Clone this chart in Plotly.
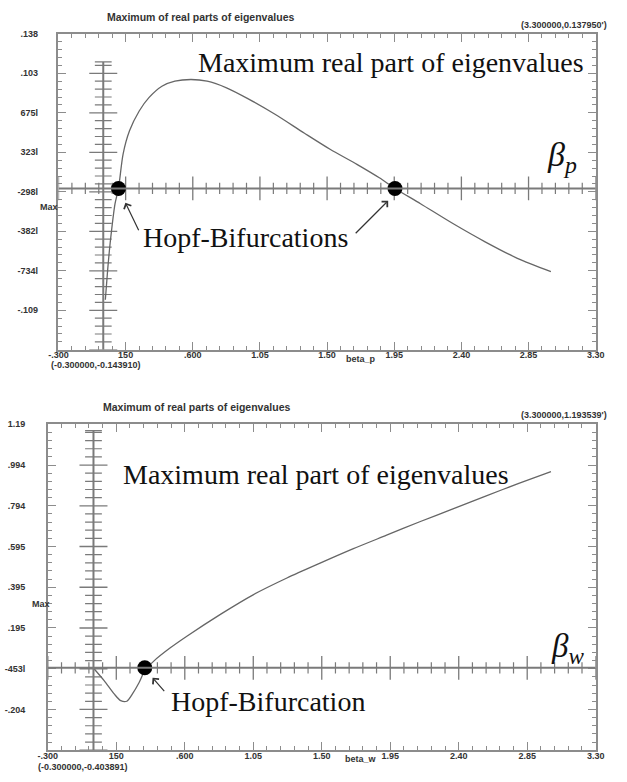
import numpy as np
import plotly.graph_objects as go

W, H = 627, 782

# ---------------- data ----------------
# top panel: beta_p
bp_x = [0.014, 0.030, 0.046, 0.079, 0.102, 0.133, 0.176, 0.241, 0.306, 0.393, 0.480, 0.588,
        0.696, 0.826, 0.978, 1.151, 1.346, 1.520, 1.700, 1.850, 1.955, 2.126, 2.343, 2.559,
        2.775, 3.000]
bp_y = [-0.0993, -0.0720, -0.0491, -0.0136, 0.0000, 0.0307, 0.0514, 0.0691, 0.0810, 0.0912,
        0.0957, 0.0972, 0.0957, 0.0898, 0.0795, 0.0662, 0.0495, 0.0350, 0.0215, 0.0095,
        0.0000, -0.0136, -0.0313, -0.0476, -0.0623, -0.0741]
bp_hopf_x = [0.102, 1.955]
bp_hopf_y = [0.0, 0.0]

# bottom panel: beta_w
bw_x = [0.005, 0.070, 0.136, 0.179, 0.219, 0.256, 0.300, 0.337, 0.398, 0.507, 0.616, 0.834,
        1.052, 1.271, 1.489, 1.708, 1.926, 2.144, 2.362, 2.581, 2.799, 3.006]
bw_y = [-0.006, -0.063, -0.128, -0.161, -0.164, -0.128, -0.072, -0.015, 0.034, 0.099, 0.156,
        0.262, 0.359, 0.440, 0.513, 0.584, 0.650, 0.716, 0.779, 0.843, 0.905, 0.962]
bw_hopf_x = [0.337]
bw_hopf_y = [0.0]

x_range = [-0.3, 3.3]
top_y_range = [-0.143910, 0.137950]
bot_y_range = [-0.403891, 1.193539]
x_ticktext = ["-.300", "150", ".600", "1.05", "1.50", "1.95", "2.40", "2.85", "3.30"]
top_y_ticktext = ["", "-.109", "-734l", "-382l", "-298l", "323l", "675l", ".103", ".138"]
bot_y_ticktext = ["", "-.204", "-453l", ".195", ".395", ".595", ".794", ".994", "1.19"]
top_inner_ytop = 0.1129
bot_inner_ytop = 1.163

# ---------------- geometry helpers ----------------
def fx(px):
    return px / W

def fy(py):
    return 1 - py / H

TOP = dict(l=50, r=604, t=29, b=347, ystand=17)
BOT = dict(l=39, r=604, t=422, b=750, ystand=19)

FRAME = "#8c8c8c"
AXC = "#7a7a7a"
CURVE = "#666666"
TXT = "#111111"
SMALL = "#333333"

fig = go.Figure()


def ticks(rng, n_major=8, n_sub=5):
    major = list(np.linspace(rng[0], rng[1], n_major + 1))
    allt = list(np.linspace(rng[0], rng[1], n_major * n_sub + 1))
    minor = [v for i, v in enumerate(allt) if i % n_sub != 0]
    return major, minor


def panel(xa, ya, yr, ytext, geo, cx, cy, hx, hy, inner_top):
    xmaj, xmin = ticks(x_range)
    ymaj, ymin = ticks(yr)
    common = dict(showline=True, linecolor=FRAME, linewidth=1.5, mirror="allticks",
                  ticks="inside", ticklen=8, tickwidth=1.2, tickcolor=FRAME,
                  showgrid=False, zeroline=False, fixedrange=True,
                  tickfont=dict(family="Liberation Sans", size=9, color=SMALL, weight="bold"),
                  tickmode="array")
    fig.layout[xa] = dict(common, domain=[fx(geo["l"]), fx(geo["r"])], range=x_range,
                          anchor=ya.replace("axis", ""),
                          tickvals=xmaj, ticktext=x_ticktext, ticklabelstandoff=-4,
                          minor=dict(ticks="inside", ticklen=4, tickcolor=FRAME, tickwidth=1,
                                     tickmode="array", tickvals=xmin, showgrid=False))
    fig.layout[ya] = dict(common, domain=[fy(geo["b"]), fy(geo["t"])], range=yr,
                          anchor=xa.replace("axis", ""),
                          tickvals=ymaj, ticktext=ytext, ticklabelstandoff=geo["ystand"],
                          minor=dict(ticks="inside", ticklen=4, tickcolor=FRAME, tickwidth=1,
                                     tickmode="array", tickvals=ymin, showgrid=False))
    xref = xa.replace("axis", "")
    yref = ya.replace("axis", "")
    # inner axes lines
    fig.add_shape(type="line", xref=xref, yref=yref, x0=x_range[0], x1=x_range[1], y0=0, y1=0,
                  line=dict(color=AXC, width=2))
    fig.add_shape(type="line", xref=xref, yref=yref, x0=0, x1=0, y0=yr[0], y1=inner_top,
                  line=dict(color=AXC, width=2))
    # inner axis ticks
    fig.add_trace(go.Scatter(x=xmaj, y=[0] * len(xmaj), xaxis=xref, yaxis=yref, mode="markers",
                             marker=dict(symbol="line-ns", size=17, line=dict(color=AXC, width=1.3)),
                             hoverinfo="skip"))
    fig.add_trace(go.Scatter(x=xmin, y=[0] * len(xmin), xaxis=xref, yaxis=yref, mode="markers",
                             marker=dict(symbol="line-ns", size=8, line=dict(color=AXC, width=1.2)),
                             hoverinfo="skip"))
    ym_in = [v for v in ymaj if v <= inner_top]
    yn_in = [v for v in ymin if v <= inner_top] + [inner_top]
    fig.add_trace(go.Scatter(x=[0] * len(ym_in), y=ym_in, xaxis=xref, yaxis=yref, mode="markers",
                             marker=dict(symbol="line-ew", size=20, line=dict(color=AXC, width=1.3)),
                             hoverinfo="skip"))
    fig.add_trace(go.Scatter(x=[0] * len(yn_in), y=yn_in, xaxis=xref, yaxis=yref, mode="markers",
                             marker=dict(symbol="line-ew", size=12, line=dict(color=AXC, width=1.2)),
                             hoverinfo="skip"))
    # curve
    fig.add_trace(go.Scatter(x=cx, y=cy, xaxis=xref, yaxis=yref, mode="lines",
                             line=dict(color=CURVE, width=1.3, shape="spline", smoothing=0.8),
                             hoverinfo="skip"))
    # hopf points
    fig.add_trace(go.Scatter(x=hx, y=hy, xaxis=xref, yaxis=yref, mode="markers",
                             marker=dict(color="black", size=15), hoverinfo="skip"))


panel("xaxis", "yaxis", top_y_range, top_y_ticktext, TOP, bp_x, bp_y, bp_hopf_x, bp_hopf_y,
      top_inner_ytop)
panel("xaxis2", "yaxis2", bot_y_range, bot_y_ticktext, BOT, bw_x, bw_y, bw_hopf_x, bw_hopf_y,
      bot_inner_ytop)


def txt(s, px, py, size, xanchor="left", family="Liberation Serif", color=TXT, weight="normal"):
    fig.add_annotation(text=s, xref="paper", yref="paper", x=fx(px), y=fy(py), showarrow=False,
                       xanchor=xanchor, yanchor="middle",
                       font=dict(family=family, size=size, color=color, weight=weight))


def arrow(hx_, hy_, tx_, ty_):
    fig.add_annotation(text="", xref="paper", yref="paper", x=fx(hx_), y=fy(hy_),
                       ax=tx_ - hx_, ay=ty_ - hy_, axref="pixel", ayref="pixel",
                       showarrow=True, arrowhead=4, arrowsize=1.3, arrowwidth=1.2,
                       arrowcolor="#333333", standoff=0)


# big labels (top)
txt("Maximum real part of eigenvalues", 192, 58, 28)
txt("<i>β</i><sub><i>p</i></sub>", 552, 153, 34)
txt("Hopf-Bifurcations", 135, 234, 28)
arrow(119, 199, 133, 228)
arrow(390, 197, 356, 231)

# big labels (bottom)
txt("Maximum real part of eigenvalues", 114, 473, 28)
txt("<i>β</i><sub><i>w</i></sub>", 556, 648, 33)
txt("Hopf-Bifurcation", 164, 701, 28)
arrow(147, 677, 160, 692)

# small labels
SF = "Liberation Sans"
txt("Maximum of real parts of eigenvalues", 196, 12, 10.5, xanchor="center", family=SF, color=SMALL, weight="bold")
txt("Maximum of real parts of eigenvalues", 192, 405, 10.5, xanchor="center", family=SF, color=SMALL, weight="bold")
txt("(3.300000,0.137950')", 618, 20, 9, xanchor="right", family=SF, color=SMALL, weight="bold")
txt("(3.300000,1.193539')", 618, 413, 9, xanchor="right", family=SF, color=SMALL, weight="bold")
txt("(-0.300000,-0.143910)", 40, 362, 9, family=SF, color=SMALL, weight="bold")
txt("(-0.300000,-0.403891)", 27, 767, 9, family=SF, color=SMALL, weight="bold")
txt("beta_p", 362, 356, 9, xanchor="center", family=SF, color=SMALL, weight="bold")
txt("beta_w", 362, 759, 9, xanchor="center", family=SF, color=SMALL, weight="bold")
txt("Max", 40, 203, 9, xanchor="center", family=SF, color=SMALL, weight="bold")
txt("Max", 32, 603, 9, xanchor="center", family=SF, color=SMALL, weight="bold")

fig.update_layout(width=W, height=H, margin=dict(l=0, r=0, t=0, b=0), showlegend=False,
                  plot_bgcolor="white", paper_bgcolor="white")

fig.write_html("out.html")
